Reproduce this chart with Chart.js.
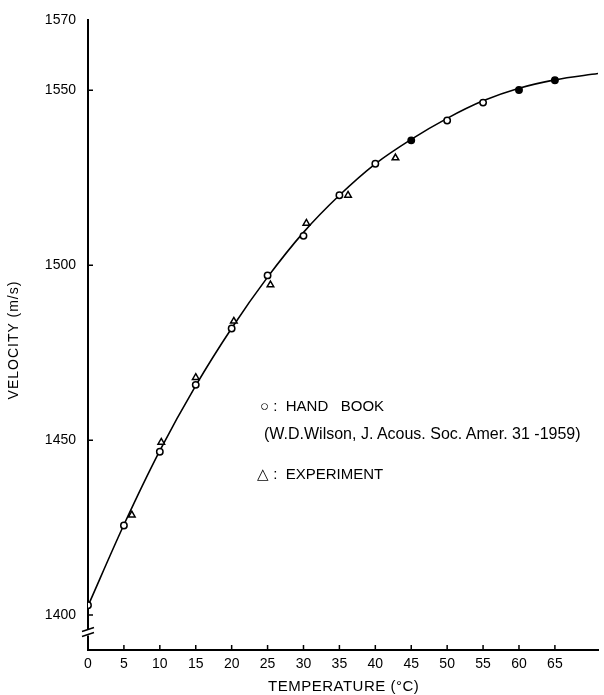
<!DOCTYPE html>
<html>
<head>
<meta charset="utf-8">
<script src="https://cdn.jsdelivr.net/npm/chart.js@4.4.1/dist/chart.umd.min.js"></script>
<style>
    html, body { margin: 0; padding: 0; background: #fff; }
    #wrap { position: relative; width: 604px; height: 695px; }
    .lbl { position: absolute; font-family: "Liberation Sans", Arial, sans-serif; font-size: 15px; color: #000; white-space: nowrap; line-height: 16px; }
</style>
</head>
<body>
<div id="wrap">
    <canvas id="velocityChart" width="604" height="695"></canvas>
    <div class="lbl" style="left:-57px; top:332px; transform: rotate(-90deg); width:140px; text-align:center; font-size:14px; letter-spacing:1px;">VELOCITY (m/s)</div>
    <div class="lbl" style="left:268px; top:678px; letter-spacing:0.5px;">TEMPERATURE (°C)</div>
    <div class="lbl" style="left:260px; top:398px;">○ :&nbsp; HAND&nbsp;&nbsp; BOOK</div>
    <div class="lbl" style="left:264px; top:426px; font-size:16px;">(W.D.Wilson, J. Acous. Soc. Amer. 31 -1959)</div>
    <div class="lbl" style="left:257px; top:466px;">△ :&nbsp; EXPERIMENT</div>
</div>
<script>
// 水中音速 - 温度曲线

// 坐标刻度
const xTicks = [0, 5, 10, 15, 20, 25, 30, 35, 40, 45, 50, 55, 60, 65];
const yTicks = [1400, 1450, 1500, 1550, 1570];

// 手册数据 (圆点)
const handbookT = [0, 5, 10, 15, 20, 25, 30, 35, 40, 45, 50, 55, 60, 65];
const handbookV = [1402.8, 1425.6, 1446.7, 1465.8, 1481.9, 1497.1, 1508.4, 1520.0, 1529.0, 1535.7, 1541.4, 1546.5, 1550.1, 1552.9];
const handbookFilled = [false, false, false, false, false, false, false, false, false, true, false, false, true, true];

// 实验数据 (三角)
const experimentT = [6.1, 10.2, 15.0, 20.3, 25.4, 30.4, 36.2, 42.8];
const experimentV = [1428.6, 1449.4, 1467.9, 1484.0, 1494.4, 1512.0, 1520.0, 1530.7];

// 拟合曲线
const curveT = [0, 5, 10, 15, 20, 25, 30, 35, 40, 45, 50, 55, 60, 65, 71];
const curveV = [1402.6, 1425.8, 1447.0, 1465.6, 1482.0, 1496.6, 1509.4, 1520.0, 1529.0, 1536.0, 1542.0, 1547.0, 1550.6, 1553.0, 1554.8];

const toPoints = (xs, ys) => xs.map((x, i) => ({ x: x, y: ys[i] }));

// 向内的刻度线和纵轴断裂符号
const axisMarks = {
    id: 'axisMarks',
    afterDraw(chart) {
        const { ctx, scales: { x, y } } = chart;
        const x0 = x.getPixelForValue(0);
        const yBase = y.getPixelForValue(1390);
        ctx.save();
        ctx.strokeStyle = '#000';
        ctx.lineWidth = 1.5;
        ctx.beginPath();
        xTicks.forEach(v => {
            const px = x.getPixelForValue(v);
            ctx.moveTo(px, yBase);
            ctx.lineTo(px, yBase - 5);
        });
        yTicks.slice(0, 4).forEach(v => {
            const py = y.getPixelForValue(v);
            ctx.moveTo(x0, py);
            ctx.lineTo(x0 + 5, py);
        });
        ctx.stroke();

        // 断裂符号
        const yb = y.getPixelForValue(1395);
        ctx.fillStyle = '#fff';
        ctx.fillRect(x0 - 3, yb - 3, 6, 6);
        ctx.lineWidth = 1.5;
        ctx.beginPath();
        ctx.moveTo(x0 - 6, yb - 1);
        ctx.lineTo(x0 + 6, yb - 5);
        ctx.moveTo(x0 - 6, yb + 4);
        ctx.lineTo(x0 + 6, yb);
        ctx.stroke();
        ctx.restore();
    }
};

const ctx = document.getElementById('velocityChart').getContext('2d');

new Chart(ctx, {
    type: 'scatter',
    data: {
        datasets: [
            {
                label: 'curve',
                data: toPoints(curveT, curveV),
                showLine: true,
                borderColor: '#000',
                borderWidth: 1.6,
                pointRadius: 0,
                cubicInterpolationMode: 'monotone',
                order: 3
            },
            {
                label: 'HAND BOOK',
                data: toPoints(handbookT, handbookV),
                pointStyle: 'circle',
                pointRadius: 3.2,
                pointBorderWidth: 1.5,
                pointBorderColor: '#000',
                pointBackgroundColor: handbookFilled.map(f => f ? '#000' : '#fff'),
                order: 1
            },
            {
                label: 'EXPERIMENT',
                data: toPoints(experimentT, experimentV),
                pointStyle: 'triangle',
                pointRadius: 3.8,
                pointBorderWidth: 1.5,
                pointBorderColor: '#000',
                pointBackgroundColor: '#fff',
                order: 2
            }
        ]
    },
    options: {
        responsive: false,
        animation: false,
        layout: {
            padding: { top: 17, right: 6, left: 0, bottom: 0 }
        },
        plugins: {
            legend: { display: false },
            tooltip: { enabled: false }
        },
        scales: {
            x: {
                type: 'linear',
                min: 0,
                max: 71,
                grid: { display: false, drawTicks: false },
                border: { display: true, color: '#000', width: 2 },
                ticks: {
                    color: '#000',
                    padding: 6,
                    font: { family: 'Liberation Sans', size: 14 },
                    callback: v => String(v)
                },
                afterBuildTicks: scale => {
                    scale.ticks = xTicks.map(v => ({ value: v }));
                },
                afterFit: scale => {
                    scale.height = 45;
                }
            },
            y: {
                type: 'linear',
                min: 1390,
                max: 1570,
                grid: { display: false, drawTicks: false },
                border: { display: true, color: '#000', width: 2 },
                ticks: {
                    color: '#000',
                    padding: 12,
                    font: { family: 'Liberation Sans', size: 14 },
                    callback: v => String(v)
                },
                afterBuildTicks: scale => {
                    scale.ticks = yTicks.map(v => ({ value: v }));
                },
                afterFit: scale => {
                    scale.width = 88;
                }
            }
        }
    },
    plugins: [axisMarks]
});
</script>
</body>
</html>
